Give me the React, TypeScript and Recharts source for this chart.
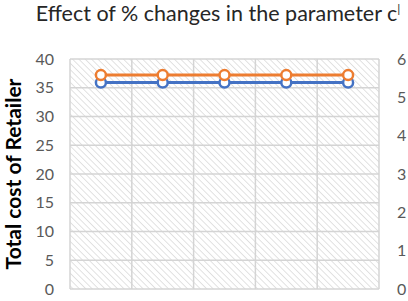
import { LineChart, Line, XAxis, YAxis, CartesianGrid } from 'recharts';

// five % change steps in c' (no axis labels shown in the original)
const categories = ['-50%', '-25%', '0%', '+25%', '+50%'];
const blueSeries = [35.9, 35.9, 35.9, 35.9, 35.9];
const orangeSeries = [37.2, 37.2, 37.2, 37.2, 37.2];
const leftTicks = [0, 5, 10, 15, 20, 25, 30, 35, 40];
const rightTicks = [0, 1, 2, 3, 4, 5, 6];
const bandTicks = [0, 1, 2, 3, 4, 5];

const FONT = 'Lato, "Open Sans", sans-serif';
const GRID = '#d4d4d4';

export default function App() {
  const data = categories.map((c, i) => ({
    name: c,
    x: i + 0.5,
    blue: blueSeries[i],
    orange: orangeSeries[i],
  }));

  return (
    <div style={{ position: 'absolute', left: 0, top: 0, width: 408, height: 301, background: '#fff', fontFamily: FONT, overflow: 'hidden' }}>
      {/* hatch pattern kept outside the chart svg, referenced by id */}
      <svg width={0} height={0} style={{ position: 'absolute' }}>
        <defs>
          <pattern id="hatch" width="4.5" height="4.5" patternUnits="userSpaceOnUse" patternTransform="rotate(-45)">
            <line x1="0" y1="0" x2="0" y2="4.5" stroke="#d2d2d2" strokeWidth="1.3" />
          </pattern>
        </defs>
      </svg>
      <div
        style={{
          position: 'absolute',
          left: 0,
          top: 0,
          width: 408,
          paddingLeft: 28,
          boxSizing: 'border-box',
          textAlign: 'center',
          fontSize: 21.5,
          color: '#262626',
          whiteSpace: 'nowrap',
        }}
      >
        Effect of % changes in the parameter c<span style={{ fontSize: 12, verticalAlign: 8 }}>|</span>
      </div>
      <LineChart
        width={408}
        height={301}
        data={data}
        margin={{ top: 59, right: 0, bottom: 12, left: 0 }}
      >
        <CartesianGrid stroke={GRID} strokeWidth={1.5} fill="url(#hatch)" />
        <XAxis dataKey="x" type="number" domain={[0, 5]} ticks={bandTicks} hide />
        <YAxis
          type="number"
          domain={[0, 40]}
          ticks={leftTicks}
          width={70}
          axisLine={false}
          tickLine={false}
          tickMargin={10}
          tick={{ fill: '#595959', fontSize: 16, fontFamily: FONT }}
          label={{
            value: 'Total cost of Retailer',
            angle: -90,
            position: 'insideLeft',
            offset: 14,
            style: { textAnchor: 'middle', fill: '#000', fontSize: 21, fontWeight: 700, fontFamily: FONT },
          }}
        />
        <YAxis
          yAxisId="right"
          orientation="right"
          type="number"
          domain={[0, 6]}
          allowDataOverflow
          ticks={rightTicks}
          width={29}
          axisLine={false}
          tickLine={false}
          tickMargin={12}
          tick={{ fill: '#595959', fontSize: 16, fontFamily: FONT }}
        />
        <Line
          dataKey="blue"
          stroke="#4472c4"
          strokeWidth={3}
          dot={{ r: 5, fill: '#fff', stroke: '#4472c4', strokeWidth: 2.5 }}
          isAnimationActive={false}
        />
        <Line
          dataKey="orange"
          stroke="#ed7d31"
          strokeWidth={3}
          dot={{ r: 5, fill: '#fff', stroke: '#ed7d31', strokeWidth: 2.5 }}
          isAnimationActive={false}
        />
      </LineChart>
    </div>
  );
}
